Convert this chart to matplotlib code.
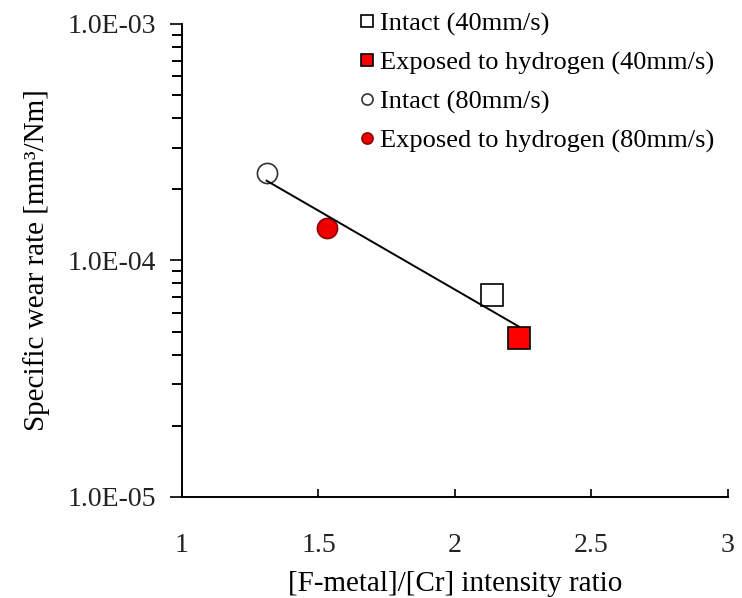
import numpy as np
import matplotlib
matplotlib.use('Agg')
import matplotlib.pyplot as plt
from matplotlib.lines import Line2D

plt.rcParams['font.family'] = ['Liberation Serif', 'DejaVu Serif']

# data
labels = ['Intact (40mm/s)', 'Exposed to hydrogen (40mm/s)',
          'Intact (80mm/s)', 'Exposed to hydrogen (80mm/s)']
ratio = [2.134, 2.234, 1.31, 1.53]
wear = [7.15e-5, 4.72e-5, 2.35e-4, 1.37e-4]

markers = ['s', 's', 'o', 'o']
faces = ['white', '#ff0000', 'white', '#ee0000']
edges = ['black', 'black', '#333333', '#8b0000']
sizes = [16, 16, 14.5, 14.5]

fig = plt.figure(figsize=(7.42, 5.98), dpi=100)
ax = fig.add_axes([0.2453, 0.1689, 0.981 - 0.2453, 0.9599 - 0.1689])

# exponential fit line across data range
coef = np.polyfit(ratio, np.log10(wear), 1)
xf = np.array([min(ratio), max(ratio)])
ax.plot(xf, 10 ** np.polyval(coef, xf), color='black', linewidth=1.4, zorder=3)

for i in range(len(ratio)):
    ax.plot(ratio[i], wear[i], marker=markers[i], markersize=sizes[i],
            markerfacecolor=faces[i], markeredgecolor=edges[i],
            markeredgewidth=1.2, linestyle='none', zorder=2)

ax.set_yscale('log')
ax.set_xlim(1, 3)
ax.set_ylim(1e-5, 1e-3)
ax.set_xticks([1, 1.5, 2, 2.5, 3])
ax.set_xticklabels(['1', '1.5', '2', '2.5', '3'])
ax.set_yticks([1e-5, 1e-4, 1e-3])
ax.set_yticklabels(['1.0E-05', '1.0E-04', '1.0E-03'])

ax.spines['top'].set_visible(False)
ax.spines['right'].set_visible(False)
ax.spines['left'].set_linewidth(1.4)
ax.spines['bottom'].set_linewidth(1.4)

ax.tick_params(axis='x', direction='in', length=6, width=1.4, pad=26,
               labelsize=20, colors='#222222')
ax.tick_params(axis='y', which='major', direction='out', length=9, width=1.4,
               pad=10, labelsize=20, colors='#222222')
ax.tick_params(axis='y', which='minor', direction='out', length=7, width=1.4)
ax.tick_params(axis='x', which='minor', bottom=False)

ax.set_xlabel('[F-metal]/[Cr] intensity ratio', fontsize=21, labelpad=9)
ax.set_ylabel('Specific wear rate [mm³/Nm]', fontsize=21, labelpad=12)

handles = []
for i in range(len(labels)):
    handles.append(Line2D([], [], marker=markers[i], markersize=8,
                          markerfacecolor=faces[i], markeredgecolor=edges[i],
                          markeredgewidth=1.2, linestyle='none'))

ax.legend(handles, labels, loc='upper left', bbox_to_anchor=(0.326, 1.025),
          frameon=False, fontsize=19, handlelength=0.5, handletextpad=0.25,
          labelspacing=0.57, borderpad=0, borderaxespad=0)

fig.savefig('out.png', dpi=100)
